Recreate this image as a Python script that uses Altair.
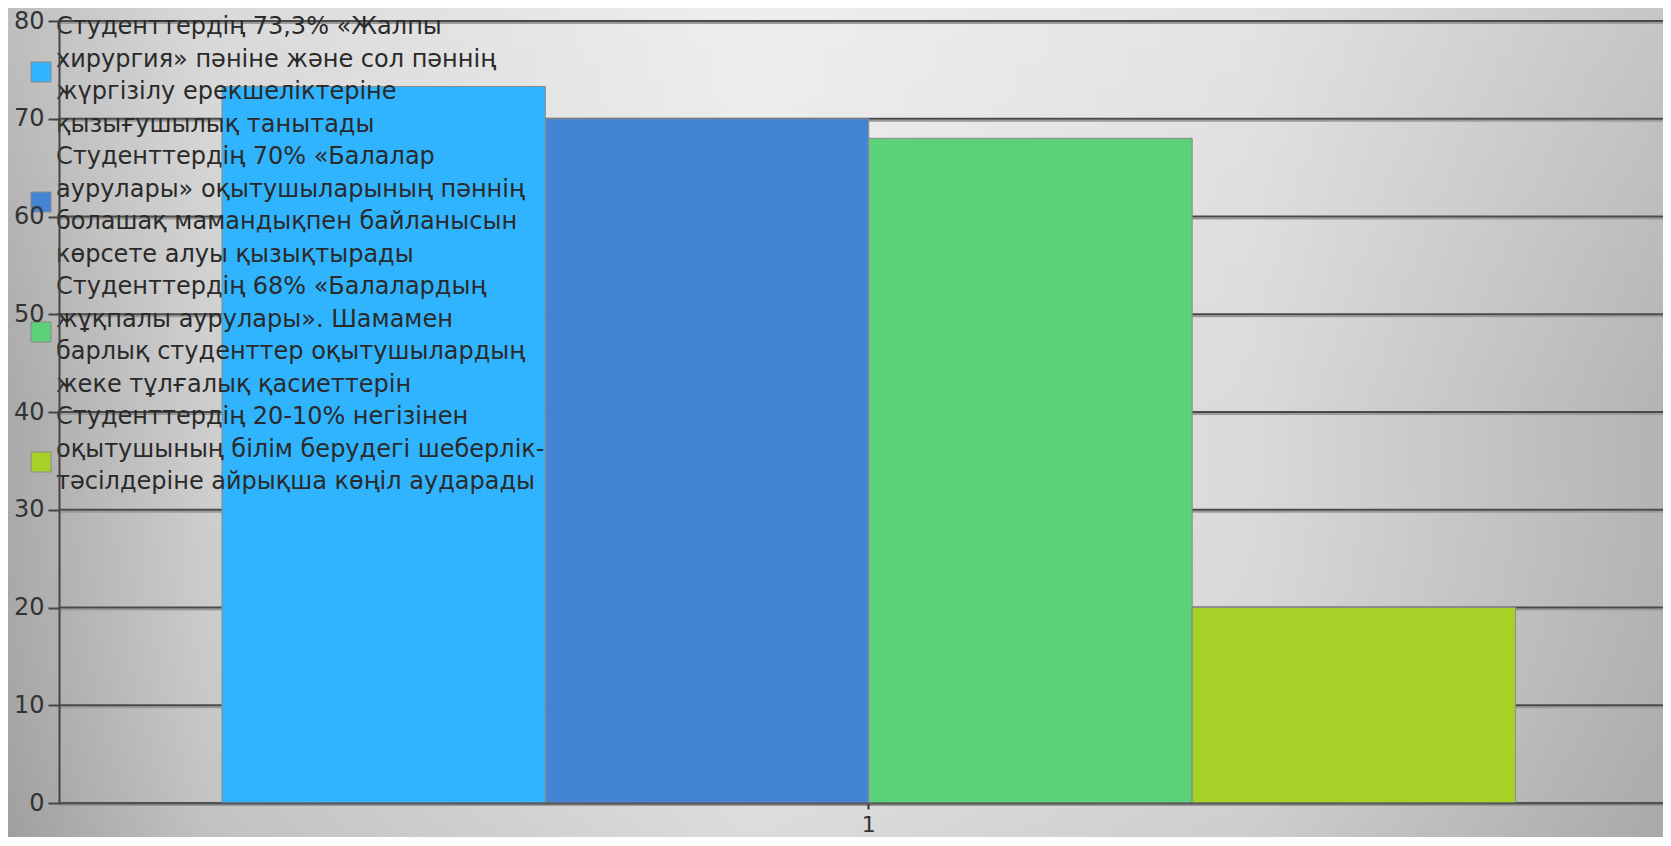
import altair as alt
import pandas as pd

# ---- data ----
categories = ["1"]
series_labels = [
    "Студенттердің 73,3% «Жалпы|хирургия» пәніне және сол пәннің|жүргізілу ерекшеліктеріне|қызығушылық танытады",
    "Студенттердің 70%  «Балалар|аурулары»  оқытушыларының пәннің|болашақ мамандықпен байланысын|көрсете алуы қызықтырады",
    "Студенттердің 68% «Балалардың|жұқпалы  аурулары».  Шамамен|барлық студенттер оқытушылардың|жеке тұлғалық қасиеттерін",
    "Студенттердің 20-10% негізінен|оқытушының білім берудегі шеберлік-|тәсілдеріне айрықша көңіл аударады",
]
values = [73.3, 70, 68, 20]
colors = ["#30B4FE", "#4384D4", "#5BD17A", "#A6D127"]
y_ticks = [0, 10, 20, 30, 40, 50, 60, 70, 80]

W, H = 1604, 782
PAD_L, PAD_T, PAD_B = 51, 13, 34

df = pd.DataFrame({
    "category": categories * len(series_labels),
    "series": series_labels,
    "value": values,
})
grid_df = pd.DataFrame({"tick": y_ticks})

FONT = "DejaVu Sans"

# legend square drawn lower than the first text line, so that it sits
# beside the middle of the multi-line label (units: half the square side)
LEGEND_SQUARE = "M-1,3.5 L1,3.5 L1,5.5 L-1,5.5 Z"

# background gradient (decoration)
bg = alt.Chart(pd.DataFrame({"a": [0]})).mark_rect(
    fill=alt.LinearGradient(
        gradient="linear",
        x1=0, y1=0, x2=1, y2=0,
        stops=[
            alt.GradientStop(offset=0.0, color="#a9a9a9"),
            alt.GradientStop(offset=0.12, color="#cdcdcd"),
            alt.GradientStop(offset=0.45, color="#e9e9e9"),
            alt.GradientStop(offset=0.75, color="#dadada"),
            alt.GradientStop(offset=1.0, color="#b3b3b3"),
        ],
    )
).encode(
    x=alt.value(-PAD_L), x2=alt.value(W),
    y=alt.value(-PAD_T), y2=alt.value(H + PAD_B),
)

bg2 = alt.Chart(pd.DataFrame({"a": [0]})).mark_rect(
    fill=alt.LinearGradient(
        gradient="linear",
        x1=0, y1=0, x2=0, y2=1,
        stops=[
            alt.GradientStop(offset=0.0, color="rgba(255,255,255,0.25)"),
            alt.GradientStop(offset=0.5, color="rgba(255,255,255,0.0)"),
            alt.GradientStop(offset=1.0, color="rgba(0,0,0,0.06)"),
        ],
    )
).encode(
    x=alt.value(-PAD_L), x2=alt.value(W),
    y=alt.value(-PAD_T), y2=alt.value(H + PAD_B),
)

y_scale = alt.Scale(domain=[0, 80], nice=False)

grid_shadow = alt.Chart(grid_df).mark_rule(
    color="#9a9a9a", strokeWidth=2, yOffset=2
).encode(y=alt.Y("tick:Q", scale=y_scale))

grid = alt.Chart(grid_df).mark_rule(
    color="#4a4a4a", strokeWidth=2
).encode(y=alt.Y("tick:Q", scale=y_scale))

bars = alt.Chart(df).mark_bar(stroke="#8a8a8a", strokeWidth=1).encode(
    x=alt.X(
        "category:N",
        scale=alt.Scale(paddingInner=0, paddingOuter=0.12, align=0.525),
        axis=alt.Axis(
            title=None, labelAngle=0, labelFontSize=22, labelFont=FONT,
            labelColor="#333333", domainColor="#555555", domainWidth=2,
            tickColor="#333333", tickSize=6, tickWidth=2, labelPadding=5,
            grid=False, zindex=1,
        ),
    ),
    xOffset=alt.XOffset(
        "series:N", sort=series_labels,
        scale=alt.Scale(paddingInner=0, paddingOuter=0),
    ),
    y=alt.Y(
        "value:Q",
        scale=y_scale,
        axis=alt.Axis(
            title=None, values=y_ticks, labelFontSize=24, labelFont=FONT,
            labelColor="#333333", tickSize=11, tickColor="#444444", tickWidth=2,
            domainColor="#444444", domainWidth=2, grid=False,
            labelPadding=4, zindex=1,
        ),
    ),
    color=alt.Color(
        "series:N",
        sort=series_labels,
        scale=alt.Scale(domain=series_labels, range=colors),
        legend=alt.Legend(
            title=None,
            orient="none",
            legendX=-30,
            legendY=-6,
            symbolType=LEGEND_SQUARE,
            symbolSize=400,
            symbolStrokeColor="#8a8a8a",
            symbolStrokeWidth=1,
            labelExpr="split(datum.label, '|')",
            labelFont=FONT,
            labelFontSize=24,
            labelColor="#2a2a2a",
            labelLimit=800,
            labelOffset=3,
            rowPadding=8,
            padding=0,
        ),
    ),
)

chart = alt.layer(bg, bg2, grid_shadow, grid, bars).properties(
    width=W, height=H,
    autosize=alt.AutoSizeParams(type="none"),
    padding={"left": PAD_L, "top": PAD_T, "right": 0, "bottom": PAD_B},
    background="#c4c4c4",
).configure_view(
    stroke="transparent"
).configure(
    style={"guide-label": {"lineHeight": 32.6}},
)

chart.save("out.html", embed_options={"renderer": "svg", "actions": False})
